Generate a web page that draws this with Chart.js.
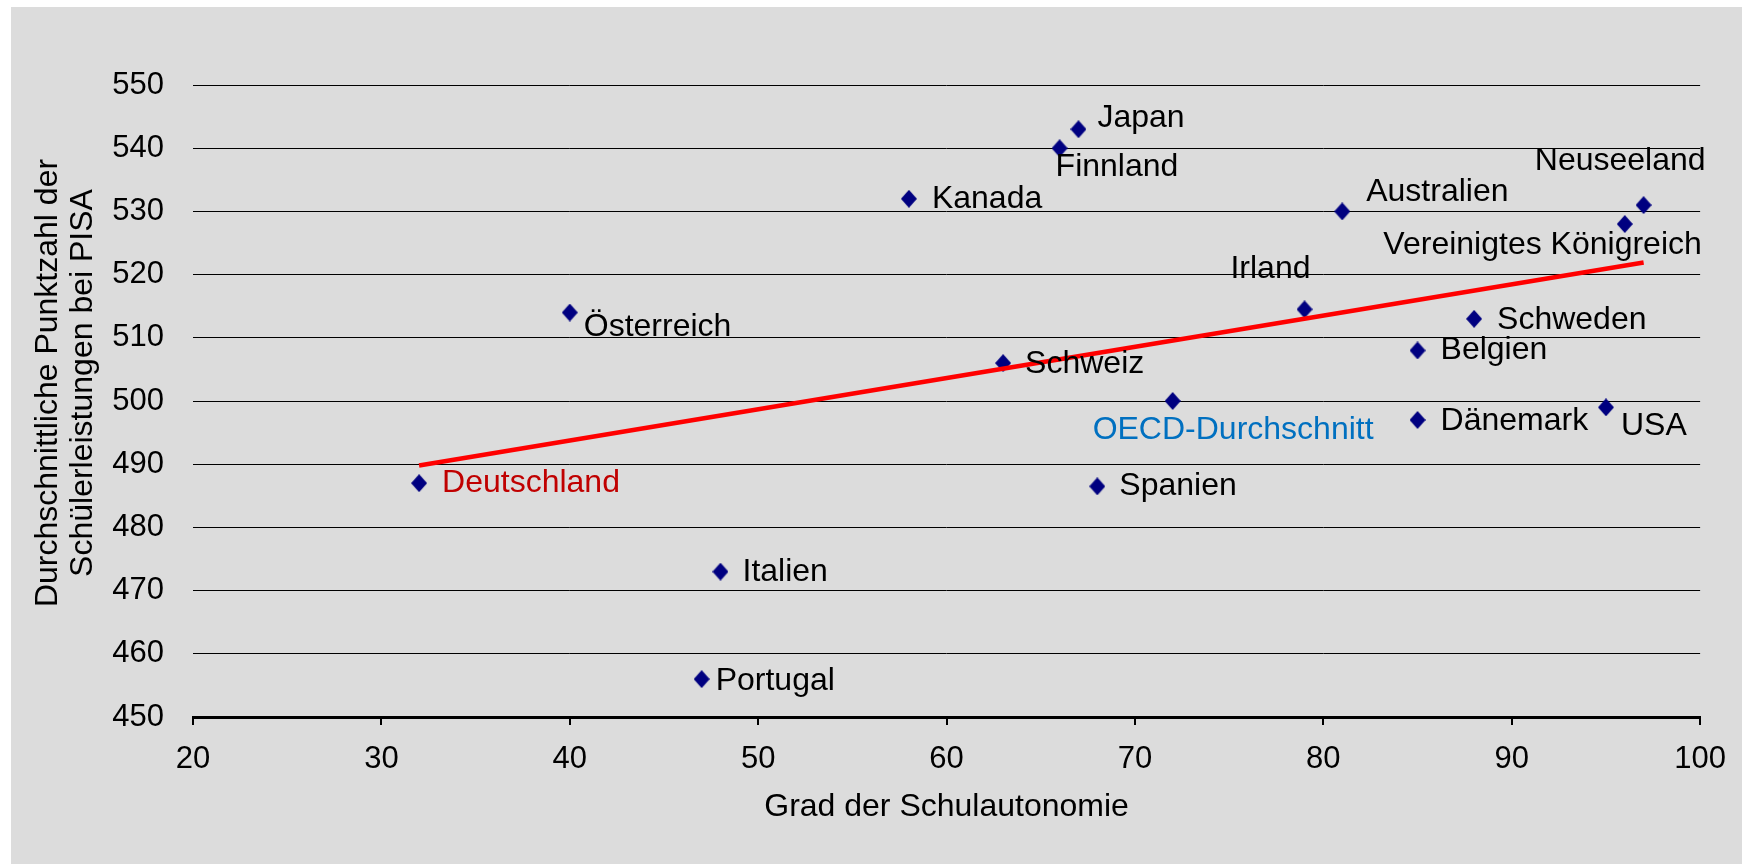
<!DOCTYPE html>
<html>
<head>
<meta charset="utf-8">
<title>Schulautonomie und PISA</title>
<script src="https://cdn.jsdelivr.net/npm/chart.js@4.4.0/dist/chart.umd.min.js"></script>
<style>
  body { margin: 0; background: #fff; }
  #box { position: absolute; left: 11px; top: 7px; width: 1731px; height: 857px; background: #dcdcdc; }
</style>
</head>
<body>
<div id="box"><canvas id="myChart" width="1731" height="857"></canvas></div>
<script>
// data
const countries = ["Österreich", "Deutschland", "Japan", "Finnland", "Kanada", "Schweiz",
  "Australien", "Neuseeland", "Vereinigtes Königreich", "Irland", "Schweden", "Belgien",
  "OECD-Durchschnitt", "Dänemark", "USA", "Spanien", "Italien", "Portugal"];
const autonomy = [40, 32, 67, 66, 58, 63, 81, 97, 96, 79, 88, 85, 72, 85, 95, 68, 48, 47];
const score = [514, 487, 543, 540, 532, 506, 530, 531, 528, 514.5, 513, 508, 500, 497, 499, 486.5, 473, 456];
const trendX = [32, 97];
const trendY = [489.8, 521.9];
const xTicks = [20, 30, 40, 50, 60, 70, 80, 90, 100];
const yTicks = [450, 460, 470, 480, 490, 500, 510, 520, 530, 540, 550];
const xTitle = "Grad der Schulautonomie";
const yTitle = ["Durchschnittliche Punktzahl der", "Schülerleistungen bei PISA"];

// where each country label sits relative to its marker
const placement = {
  "Österreich": { dx: 14, dy: 15 },
  "Deutschland": { dx: 23, dy: 0, color: "#c00000" },
  "Japan": { dx: 19, dy: -11 },
  "Finnland": { dx: -4, dy: 19 },
  "Kanada": { dx: 23, dy: 0 },
  "Schweiz": { dx: 22, dy: 1 },
  "Australien": { dx: 24, dy: -19 },
  "Neuseeland": { dx: 62, dy: -44, align: "right" },
  "Vereinigtes Königreich": { dx: 77, dy: 21, align: "right" },
  "Irland": { dx: 6, dy: -40, align: "right" },
  "Schweden": { dx: 23, dy: 1 },
  "Belgien": { dx: 23, dy: 0 },
  "OECD-Durchschnitt": { dx: -80, dy: 29, color: "#0070c0" },
  "Dänemark": { dx: 23, dy: 1 },
  "USA": { dx: 15, dy: 19 },
  "Spanien": { dx: 22, dy: 0 },
  "Italien": { dx: 22, dy: 1 },
  "Portugal": { dx: 14, dy: 2 }
};

const FONT = "'Liberation Sans', Arial, sans-serif";
Chart.defaults.font.family = FONT;
Chart.defaults.font.size = 31;
Chart.defaults.color = "#000";

// navy diamond, a bit taller than wide
const diamond = document.createElement("canvas");
diamond.width = 16;
diamond.height = 18;
(function () {
  const c = diamond.getContext("2d");
  c.fillStyle = "#000080";
  c.beginPath();
  c.moveTo(8, 0);
  c.lineTo(16, 9);
  c.lineTo(8, 18);
  c.lineTo(0, 9);
  c.closePath();
  c.fill();
})();

const labelPlugin = {
  id: "countryLabels",
  afterDatasetsDraw(chart) {
    const ctx = chart.ctx;
    const meta = chart.getDatasetMeta(1);
    ctx.save();
    ctx.font = "32px " + FONT;
    ctx.textBaseline = "middle";
    meta.data.forEach((pt, i) => {
      const p = placement[countries[i]];
      ctx.fillStyle = p.color || "#000";
      ctx.textAlign = p.align || "left";
      ctx.fillText(countries[i], pt.x + p.dx, pt.y + p.dy);
    });

    // y axis title, two lines, rotated
    const cy = (chart.chartArea.top + chart.chartArea.bottom) / 2 - 18;
    ctx.fillStyle = "#000";
    ctx.textAlign = "center";
    ctx.textBaseline = "alphabetic";
    [46, 81].forEach((bx, i) => {
      ctx.save();
      ctx.translate(bx, cy);
      ctx.rotate(-Math.PI / 2);
      ctx.fillText(yTitle[i], 0, 0);
      ctx.restore();
    });
    ctx.restore();
  }
};

const ctx = document.getElementById("myChart");
const myChart = new Chart(ctx, {
  type: "scatter",
  data: {
    datasets: [
      {
        label: "Trend",
        data: trendX.map((x, i) => ({ x: x, y: trendY[i] })),
        showLine: true,
        borderColor: "#ff0000",
        borderWidth: 4.5,
        pointRadius: 0,
        fill: false
      },
      {
        label: "Länder",
        data: autonomy.map((x, i) => ({ x: x, y: score[i] })),
        pointStyle: diamond,
        pointRadius: 8,
        backgroundColor: "#000080",
        borderColor: "#000080"
      }
    ]
  },
  options: {
    responsive: false,
    animation: false,
    layout: { padding: { top: 78, right: 37, left: 0, bottom: 0 } },
    plugins: {
      legend: { display: false },
      tooltip: { enabled: false }
    },
    scales: {
      x: {
        type: "linear",
        min: xTicks[0],
        max: xTicks[xTicks.length - 1],
        afterBuildTicks: (s) => { s.ticks = xTicks.map((v) => ({ value: v })); },
        afterFit: (s) => { s.height = 147; },
        grid: { drawOnChartArea: false, drawTicks: true, tickLength: 8, color: "#000", lineWidth: 2 },
        border: { display: true, color: "#000", width: 3 },
        ticks: { padding: 16, font: { size: 31 } },
        title: { display: true, text: xTitle, font: { size: 32 }, padding: { top: 0, bottom: 38 } }
      },
      y: {
        min: yTicks[0],
        max: yTicks[yTicks.length - 1],
        afterBuildTicks: (s) => { s.ticks = yTicks.map((v) => ({ value: v })); },
        afterFit: (s) => { s.width = 182; },
        grid: { drawTicks: false, color: "#000", lineWidth: 1 },
        border: { display: false },
        ticks: { padding: 29, font: { size: 31 } }
      }
    }
  },
  plugins: [labelPlugin]
});
</script>
</body>
</html>
